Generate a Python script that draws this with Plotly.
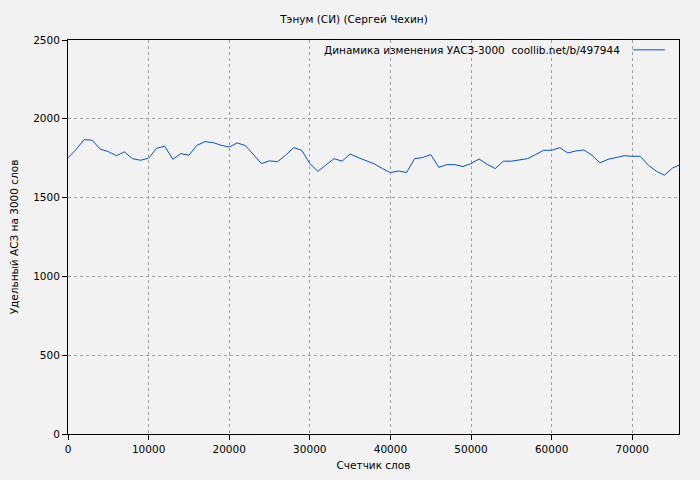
import plotly.graph_objects as go

words = list(range(0, 76000, 1000)) + [75800]
values = [1752, 1805, 1868, 1864, 1807, 1792, 1766, 1790, 1747, 1737,
          1750, 1813, 1826, 1743, 1779, 1769, 1832, 1855, 1849, 1832,
          1821, 1847, 1830, 1773, 1716, 1733, 1728, 1769, 1817, 1800,
          1716, 1667, 1705, 1747, 1731, 1777, 1754, 1733, 1714, 1684,
          1659, 1669, 1659, 1747, 1754, 1773, 1692, 1709, 1709, 1697,
          1716, 1745, 1711, 1684, 1731, 1731, 1737, 1747, 1773, 1800,
          1800, 1817, 1783, 1796, 1802, 1769, 1720, 1743, 1754, 1766,
          1762, 1762, 1705, 1667, 1642, 1688, 1705]
legend_text = "Динамика изменения УАСЗ-3000  coollib.net/b/497944"

font = "DejaVu Sans"
fsize = 10.5
line_color = "#0a4fbf"
bg = "#f2f2f2"
fig = go.Figure()
fig.add_trace(go.Scatter(x=words, y=values, mode="lines",
                         line=dict(color=line_color, width=1),
                         name=legend_text, showlegend=False))

axis = dict(showgrid=True, gridcolor="#a0a0a0", griddash="dot", gridwidth=1,
            zeroline=False, showline=True, linecolor="black", linewidth=1,
            ticks="outside", ticklen=5, tickcolor="black", mirror=True,
            automargin=False, tickfont=dict(size=fsize, color="black"))
# page body has an 8px margin, so the figure is shrunk to compensate
fig.update_layout(
    width=692, height=472,
    paper_bgcolor=bg, plot_bgcolor=bg,
    margin=dict(l=60, r=21, t=32, b=46, autoexpand=False),
    font=dict(family=font, size=fsize, color="black"),
    title=dict(text="Тэнум (СИ) (Сергей Чехин)", x=0.5, y=0.977,
               xanchor="center", yanchor="middle", font=dict(size=fsize)),
    xaxis=dict(axis, range=[0, 75800], dtick=10000, tickformat="d",
               title=dict(text="Счетчик слов", standoff=8, font=dict(size=fsize))),
    yaxis=dict(axis, range=[0, 2500], dtick=500,
               title=dict(text="Удельный АСЗ на 3000 слов", standoff=18, font=dict(size=fsize))),
)
# gnuplot-style legend: text, then the line sample on the right
fig.add_annotation(xref="paper", yref="paper", x=0.907, y=0.975,
                   xanchor="right", yanchor="middle", showarrow=False,
                   text=legend_text, font=dict(size=fsize))
fig.add_shape(type="line", xref="paper", yref="paper", x0=0.925, x1=0.977,
              y0=0.975, y1=0.975, line=dict(color=line_color, width=1))
fig.write_html("out.html")

# paint the page gutter the same grey
with open("out.html", encoding="utf-8") as f:
    html = f.read()
html = html.replace("<head>", f"<head><style>body{{background:{bg}}}</style>", 1)
with open("out.html", "w", encoding="utf-8") as f:
    f.write(html)
